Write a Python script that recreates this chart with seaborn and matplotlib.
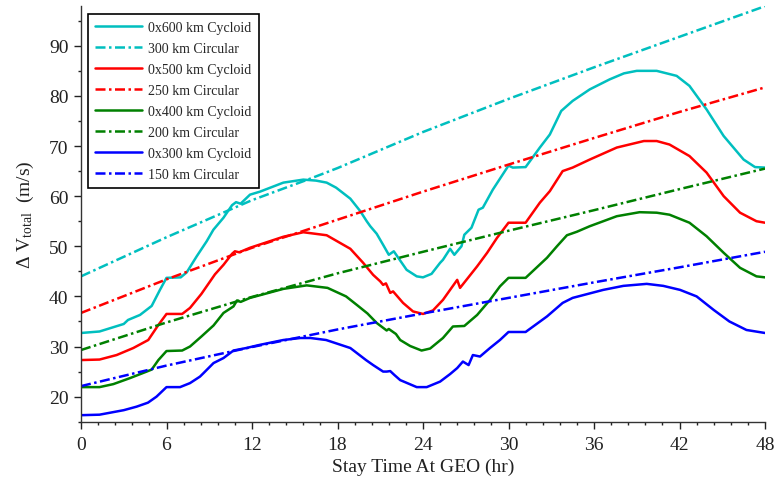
import numpy as np
import pandas as pd
import matplotlib
matplotlib.use("Agg")
import matplotlib.pyplot as plt
import seaborn as sns
from matplotlib.ticker import MultipleLocator

# ---------------- data ----------------
t_circ = [0, 6, 12, 16, 18, 24, 30, 36, 42, 48]
circ_300 = [44.0, 51.8, 59.2, 63.4, 65.6, 72.8, 79.4, 85.7, 91.8, 97.9]
t_circ2 = [0, 6, 12, 18, 24, 30, 36, 42, 48]
circ_250 = [36.7, 43.4, 49.7, 55.3, 60.9, 66.3, 71.6, 76.8, 81.7]
circ_200 = [29.3, 34.8, 39.9, 44.6, 48.9, 53.1, 57.2, 61.4, 65.5]
circ_150 = [22.1, 26.2, 29.9, 33.4, 36.6, 39.7, 42.8, 45.8, 48.9]

t_cyc600 = [0, 1.3, 3.0, 3.3, 4.14, 4.96, 5.54, 6.0, 7.0, 7.42, 8.12, 8.82, 9.29,
            10.0, 10.6, 10.88, 11.2, 11.86, 12.56, 14.2, 15.6, 16.5, 17.24, 17.9,
            18.9, 19.6, 20.05, 20.3, 20.75, 21.2, 21.6, 21.95, 22.85, 23.56, 24.0,
            24.6, 25.2, 25.4, 25.9, 26.2, 26.7, 26.9, 27.4, 27.9, 28.2, 28.9, 30.0,
            30.3, 31.2, 32.2, 32.9, 33.7, 34.5, 35.7, 37.1, 38.1, 39.0, 40.4, 41.8,
            42.7, 43.9, 45.1, 46.5, 47.3, 48]
cyc600 = [32.7, 33.0, 34.5, 35.3, 36.3, 38.1, 41.3, 43.7, 43.8, 44.8, 48.0, 51.0, 53.3,
          55.7, 58.2, 58.8, 58.5, 60.3, 60.9, 62.7, 63.3, 63.1, 62.7, 61.7,
          59.5, 57.0, 55.0, 54.0, 52.5, 50.3, 48.3, 49.0, 45.3, 44.0, 43.8,
          44.5, 46.7, 47.3, 49.5, 48.3, 50.0, 52.3, 53.7, 57.3, 57.7, 61.3, 66.1,
          65.7, 65.8, 69.7, 72.3, 77.0, 79.0, 81.3, 83.3, 84.5, 85.0, 85.0, 84.0,
          82.0, 77.3, 72.0, 67.3, 65.8, 65.7]

t_cyc500 = [0, 1.3, 2.5, 3.67, 4.72, 5.43, 6.0, 7.1, 7.65, 8.45, 9.4, 10.0, 10.6, 10.8,
            11.1, 11.86, 14.2, 15.6, 17.24, 18.9, 19.8, 20.5, 21.0, 21.2, 21.4, 21.7,
            21.9, 22.6, 23.3, 24.0, 24.7, 25.4, 26.4, 26.6, 27.8, 28.5, 29.2, 30.0,
            31.2, 32.2, 32.9, 33.8, 34.5, 35.7, 37.6, 39.5, 40.4, 41.3, 42.7, 43.9,
            45.1, 46.25, 47.4, 48]
cyc500 = [27.3, 27.4, 28.3, 29.7, 31.3, 34.3, 36.5, 36.5, 37.7, 40.5, 44.4, 46.3, 48.5, 49.0,
          48.8, 49.7, 51.9, 52.8, 52.2, 49.5, 46.7, 44.3, 43.0, 42.3, 42.6, 40.7,
          41.0, 38.7, 37.0, 36.5, 37.2, 39.3, 43.3, 41.7, 46.0, 48.7, 51.7, 54.7,
          54.7, 58.7, 61.0, 65.0, 65.7, 67.3, 69.7, 71.0, 71.0, 70.3, 68.0, 64.7,
          60.0, 56.7, 55.0, 54.7]

t_cyc400 = [0, 1.3, 2.27, 3.44, 4.61, 4.96, 5.43, 6.0, 7.1, 7.65, 8.45, 9.3, 10.0, 10.7,
            10.95, 11.2, 11.86, 14.2, 15.84, 17.3, 18.6, 19.4, 20.1, 20.75, 21.45, 21.6,
            22.1, 22.4, 23.1, 23.9, 24.5, 25.4, 26.1, 26.9, 27.8, 28.7, 29.4, 30.0,
            31.2, 32.7, 33.4, 34.1, 34.8, 35.7, 37.6, 39.2, 40.4, 41.3, 42.7, 43.9,
            45.1, 46.25, 47.4, 48]
cyc400 = [21.9, 21.9, 22.5, 23.7, 25.0, 25.4, 27.3, 29.1, 29.2, 30.0, 32.0, 34.2, 36.7, 38.0,
          39.2, 38.9, 39.7, 41.5, 42.2, 41.7, 40.0, 38.2, 36.6, 34.7, 33.2, 33.5,
          32.5, 31.3, 30.1, 29.2, 29.6, 31.7, 34.0, 34.1, 36.3, 39.3, 42.0, 43.7,
          43.7, 47.7, 50.0, 52.2, 52.9, 54.0, 56.0, 56.8, 56.7, 56.3, 54.7, 52.0,
          48.7, 45.7, 44.0, 43.8]

t_cyc300 = [0, 1.3, 3.0, 3.9, 4.7, 5.3, 6.0, 6.95, 7.65, 8.35, 8.6, 9.3, 10.0, 10.7, 11.6,
            12.5, 14.2, 15.4, 16.1, 17.2, 18.9, 20.0, 20.5, 21.2, 21.45, 21.7, 22.0,
            22.4, 23.56, 24.26, 25.2, 25.9, 26.4, 26.8, 27.2, 27.5, 28.0, 28.7, 29.4,
            30.0, 31.2, 32.7, 33.8, 34.5, 36.65, 38.06, 39.7, 40.86, 42.04, 43.2, 44.4,
            45.5, 46.7, 48]
cyc300 = [16.3, 16.4, 17.3, 18.0, 18.8, 20.0, 21.9, 21.9, 22.7, 24.0, 24.7, 26.7, 27.7, 29.2, 29.7,
          30.3, 31.3, 31.7, 31.7, 31.3, 29.7, 27.3, 26.3, 25.0, 25.0, 25.1, 24.3,
          23.3, 21.9, 21.9, 23.0, 24.5, 25.7, 27.0, 26.3, 28.3, 28.0, 29.7, 31.3,
          32.9, 32.9, 36.0, 38.7, 39.7, 41.3, 42.1, 42.5, 42.1, 41.3, 40.0, 37.3,
          35.0, 33.3, 32.7]

x_ticks = [0, 6, 12, 18, 24, 30, 36, 42, 48]
y_ticks = [20, 30, 40, 50, 60, 70, 80, 90]

# ---------------- styling ----------------
sns.set_style("ticks")
plt.rcParams["font.family"] = ["Liberation Serif", "DejaVu Serif"]
plt.rcParams["mathtext.fontset"] = "custom"
plt.rcParams["mathtext.rm"] = "Liberation Serif"
plt.rcParams["mathtext.it"] = "Liberation Serif:italic"

CYAN = "#00BFBF"
RED = "#FF0000"
GREEN = "#008000"
BLUE = "#0000FF"
DASHDOT = (0, (4, 1.4, 1, 1.4))

fig = plt.figure(figsize=(7.76, 4.81), dpi=100)
ax = fig.add_axes([81 / 776, 1 - 422.7 / 481, (765 - 81) / 776, (422.7 - 6.7) / 481])

series = [
    (t_cyc600, cyc600, CYAN, "-", "0x600 km Cycloid"),
    (t_circ, circ_300, CYAN, DASHDOT, "300 km Circular"),
    (t_cyc500, cyc500, RED, "-", "0x500 km Cycloid"),
    (t_circ2, circ_250, RED, DASHDOT, "250 km Circular"),
    (t_cyc400, cyc400, GREEN, "-", "0x400 km Cycloid"),
    (t_circ2, circ_200, GREEN, DASHDOT, "200 km Circular"),
    (t_cyc300, cyc300, BLUE, "-", "0x300 km Cycloid"),
    (t_circ2, circ_150, BLUE, DASHDOT, "150 km Circular"),
]
for tx, vy, col, ls, lab in series:
    df = pd.DataFrame({"t": tx, "v": vy})
    sns.lineplot(data=df, x="t", y="v", color=col, linestyle=ls, linewidth=1.8,
                 label=lab, ax=ax, estimator=None, sort=False)

ax.set_xlim(0, 48)
ax.set_ylim(15, 98)
ax.set_xticks(x_ticks)
ax.set_yticks(y_ticks)
ax.xaxis.set_minor_locator(MultipleLocator(1.2))
ax.yaxis.set_minor_locator(MultipleLocator(5))
ax.tick_params(which="major", direction="out", length=5, width=1, colors="#222222",
               labelsize=14, labelcolor="#222222")
ax.tick_params(which="minor", direction="out", length=2.5, width=1, colors="#222222")
ax.tick_params(axis="x", which="major", pad=5.5)
ax.tick_params(axis="y", which="major", pad=4)
for s in ["top", "right"]:
    ax.spines[s].set_visible(False)
for s in ["left", "bottom"]:
    ax.spines[s].set_color("#333333")
    ax.spines[s].set_linewidth(1.0)

ax.set_xlabel("Stay Time At GEO (hr)", fontsize=14, color="#222222", labelpad=3)
ax.set_ylabel(r"$\Delta$ V$_{\mathrm{total}}$  (m/s)", fontsize=14, color="#222222", labelpad=9)

leg = ax.legend(loc="upper left", bbox_to_anchor=((88 - 81) / 684, (422.7 - 15) / 416),
                borderaxespad=0, fontsize=10, frameon=True, fancybox=False,
                handlelength=3.4, handletextpad=0.45, labelspacing=0.58,
                borderpad=0.5)
leg.get_frame().set_edgecolor("black")
leg.get_frame().set_linewidth(1.2)
leg.get_frame().set_alpha(1)

fig.savefig("out.png", dpi=100)
